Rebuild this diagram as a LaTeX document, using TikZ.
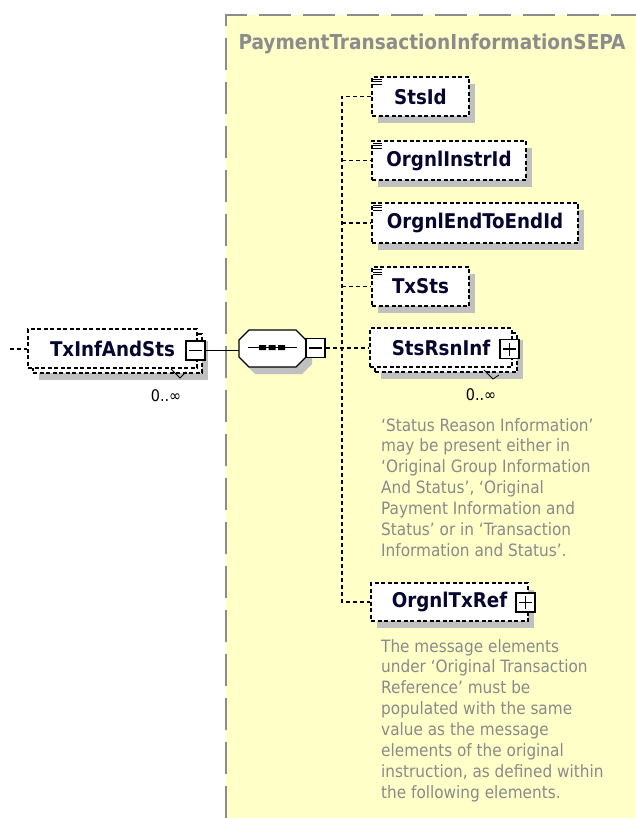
\documentclass[tikz,border=0pt]{standalone}
\usepackage{fontspec}
\setmainfont{DejaVu Sans Condensed}
\usetikzlibrary{calc}
\definecolor{bgyellow}{HTML}{FFFFC8}
\definecolor{framegray}{HTML}{8C8C8C}
\definecolor{shadowgray}{HTML}{C0C0C0}
\definecolor{namec}{HTML}{06062E}
\definecolor{notegray}{HTML}{8A8A8A}
\newcommand{\elembox}[6]{%
  \fill[shadowgray] ({#2-#4/2+6},{#3-#5/2+7}) rectangle ({#2+#4/2+6},{#3+#5/2+7});
  \node[elem, minimum width=#4pt, minimum height=#5pt] (#1) at (#2,#3) {#6};}
\newcommand{\repbox}[6]{%
  \fill[shadowgray] ({#2-#4/2+11},{#3-#5/2+12}) rectangle ({#2+#4/2+11},{#3+#5/2+12});
  \node[elem, minimum width=#4pt, minimum height=#5pt] (#1back) at ({#2+5},{#3+5}) {};
  \node[elem, minimum width=#4pt, minimum height=#5pt] (#1) at (#2,#3) {#6};}
\newcommand{\simpleicon}[1]{%
  \foreach \d in {3,5.5,8}{\draw[black, line width=0.8pt] ([shift={(2,\d)}]#1.north west) -- ++(9,0);}}
\begin{document}
\begin{tikzpicture}[x=1pt,y=-1pt,
  elem/.style={draw=black, dash pattern=on 4pt off 2.5pt, line width=1.2pt, fill=white, inner sep=0pt,
    font=\bfseries\fontsize{20.3}{20.3}\selectfont, text=namec},
  conn/.style={draw=black, line width=1.1pt, dash pattern=on 4pt off 3pt},
  pmbox/.style={draw=black, fill=white, line width=1.1pt, minimum size=19pt, inner sep=0pt},
  pmminus/.style={pmbox, path picture={\draw[line width=1.1pt]
      ([xshift=3pt]path picture bounding box.west) -- ([xshift=-3pt]path picture bounding box.east);}},
  pmplus/.style={pmbox, path picture={\draw[line width=1.1pt]
      ([xshift=3pt]path picture bounding box.west) -- ([xshift=-3pt]path picture bounding box.east)
      ([yshift=-3pt]path picture bounding box.north) -- ([yshift=3pt]path picture bounding box.south);}},
  note/.style={font=\fontsize{17}{20.85}\selectfont, text=notegray, align=left, anchor=north west, inner sep=0pt},
  card/.style={font=\fontsize{16}{16}\selectfont, text=black, inner sep=0pt}
]
\useasboundingbox (0,0) rectangle (635,818);
% background group
\fill[bgyellow] (226,15) rectangle (636,819);
\draw[framegray, line width=1.6pt, dash pattern=on 32pt off 12pt] (226,818) -- (226,15) -- (640,15);
\node[font=\bfseries\fontsize{20.6}{20.6}\selectfont, text=framegray, inner sep=0pt] (title) at (432,44) {PaymentTransactionInformationSEPA};

% left element
\repbox{txinf}{112.5}{348.5}{169}{39}{TxInfAndSts}
\node[pmminus] (txm) at (195.5,350.5) {};
\coordinate (lin) at (10,349);
\draw[conn] (lin) -- (txinf.west |- lin);
\node[card] (card1) at (166,396) {0..∞};
\draw[black, line width=0.8pt] (171,369) -- (180,378) -- (186,372);

% sequence compositor
\node[minimum width=67pt, minimum height=37pt, inner sep=0pt] (seq) at (272.5,348.5) {};
\fill[shadowgray] (255,337) -- (302,337) -- (312,347) -- (312,364) -- (302,374) -- (255,374) -- (245,364) -- (245,347) -- cycle;
\draw[black, line width=1.1pt, fill=white] (249,330) -- (296,330) -- (306,340) -- (306,357) -- (296,367) -- (249,367) -- (239,357) -- (239,340) -- cycle;
\draw[black, line width=1.1pt] (248,347.5) -- (297,347.5);
\fill[black] (259,345) rectangle (266,350) (268.5,345) rectangle (275.5,350) (278,345) rectangle (285,350);
\node[pmminus] (seqm) at (315.5,348) {};
\draw[black, line width=1.1pt] (txm.east) -- (seq.west |- txm.east);

% children
\elembox{stsid}{420.5}{96.5}{97}{39}{StsId}
\elembox{oinstr}{449}{160.5}{154}{39}{OrgnlInstrId}
\elembox{oe2e}{475}{223}{206}{40}{OrgnlEndToEndId}
\elembox{txsts}{420.5}{286.5}{97}{39}{TxSts}
\repbox{srsn}{441}{347.5}{142}{39}{StsRsnInf}
\node[pmplus] (srp) at (509.5,349) {};
\elembox{otxref}{449.5}{602}{157}{38}{OrgnlTxRef}
\node[pmplus] (otp) at (525.5,602.5) {};
\simpleicon{stsid}
\simpleicon{oinstr}
\simpleicon{oe2e}
\simpleicon{txsts}
\node[card] (card2) at (481,395) {0..∞};
\draw[black, line width=0.8pt] (484,370) -- (493,379) -- (499,375);

% connectors
\coordinate (sp) at (342,0);
\draw[conn] (seqm.east) -- (seqm.east -| srsn.west);
\draw[conn] (stsid.west) -- (stsid.west -| sp) -- (otxref.west -| sp) -- (otxref.west);
\draw[conn] (oinstr.west -| sp) -- (oinstr.west);
\draw[conn] (oe2e.west -| sp) -- (oe2e.west);
\draw[conn] (txsts.west -| sp) -- (txsts.west);

% notes
\node[note] (note1) at (381,418) {`Status Reason Information'\\may be present either in\\`Original Group Information\\And Status', `Original\\Payment Information and\\Status' or in `Transaction\\Information and Status'.};
\node[note] (note2) at (381,639) {The message elements\\under `Original Transaction\\Reference' must be\\populated with the same\\value as the message\\elements of the original\\instruction, as defined within\\the following elements.};
\end{tikzpicture}
\end{document}
